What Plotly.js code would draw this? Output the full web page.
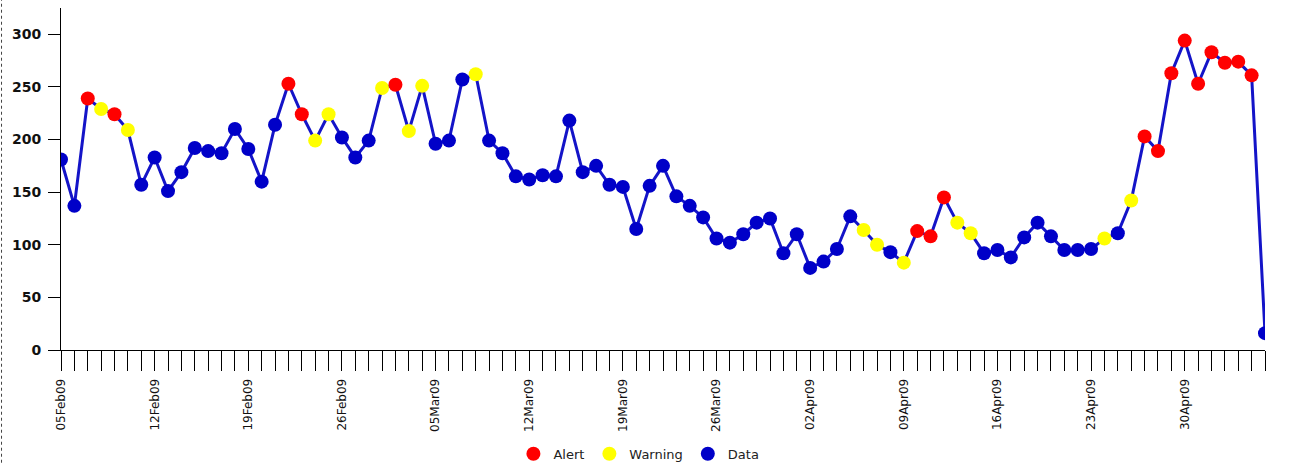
<!DOCTYPE html>
<html>
<head>
<meta charset="utf-8">
<script src="https://cdn.plot.ly/plotly-3.0.1.min.js"></script>
<style>
html,body{margin:0;padding:0;background:#fff;}
#chart{width:1295px;height:463px;}
</style>
</head>
<body>
<div id="chart"></div>
<script>
// First day of the daily series
const startDate = '2009-02-05';

// Daily values (05Feb09 .. 06May09)
const values = [
  181,137,239,229,224,209,157,183,151,169,
  192,189,187,210,191,160,214,253,224,199,
  224,202,183,199,249,252,208,251,196,199,
  257,262,199,187,165,162,166,165,218,169,
  175,157,155,115,156,175,146,137,126,106,
  102,110,121,125,92,110,78,84,96,127,
  114,100,93,83,113,108,145,121,111,92,
  95,88,107,121,108,95,95,96,106,111,
  142,203,189,263,294,253,283,273,274,261,
  16
];

// Status of each day: A = Alert, W = Warning, D = Data
const status = [
  'D','D','A','W','A','W','D','D','D','D',
  'D','D','D','D','D','D','D','A','A','W',
  'W','D','D','D','W','A','W','W','D','D',
  'D','W','D','D','D','D','D','D','D','D',
  'D','D','D','D','D','D','D','D','D','D',
  'D','D','D','D','D','D','D','D','D','D',
  'W','W','D','W','A','A','A','W','W','D',
  'D','D','D','D','D','D','D','D','W','D',
  'W','A','A','A','A','A','A','A','A','A',
  'D'
];

const seriesNames = {A: 'Alert', W: 'Warning', D: 'Data'};
const seriesColors = {A: '#ff0000', W: '#ffff00', D: '#0000c8'};
const legendOrder = ['A', 'W', 'D'];

// Dates for each value
const dates = values.map((v, i) => {
  const d = new Date(startDate + 'T00:00:00Z');
  d.setUTCDate(d.getUTCDate() + i);
  return d.toISOString().slice(0, 10);
});

const traces = [{
  x: dates, y: values, type: 'scatter', mode: 'lines',
  line: {color: '#1414c8', width: 3},
  showlegend: false, hoverinfo: 'skip'
}];

legendOrder.forEach(code => {
  const xs = [], ys = [];
  status.forEach((s, i) => { if (s === code) { xs.push(dates[i]); ys.push(values[i]); } });
  traces.push({
    x: xs, y: ys, type: 'scatter', mode: 'markers', name: seriesNames[code],
    marker: {color: seriesColors[code], size: 14, line: {width: 0}}
  });
});

const layout = {
  width: 1295, height: 463,
  margin: {l: 61, r: 30, t: 8, b: 113, pad: 0},
  paper_bgcolor: '#ffffff', plot_bgcolor: '#ffffff',
  font: {family: 'DejaVu Sans', color: '#111'},
  showlegend: true,
  legend: {
    orientation: 'h', x: 0.48, xanchor: 'center',
    yref: 'container', y: 0.02, yanchor: 'middle',
    font: {family: 'DejaVu Sans', size: 13, color: '#222'},
    itemwidth: 30, traceorder: 'normal'
  },
  xaxis: {
    type: 'date', automargin: false,
    range: [dates[0], dates[dates.length - 1]],
    tick0: startDate, dtick: 7 * 86400000,
    tickformat: '%d%b%y', tickangle: -90,
    ticks: 'outside', ticklen: 20, tickwidth: 1, tickcolor: '#000',
    tickfont: {family: 'DejaVu Sans', size: 12, color: '#111'},
    ticklabelstandoff: 3,
    minor: {dtick: 86400000, ticks: 'outside', ticklen: 20, tickwidth: 1, tickcolor: '#000', showgrid: false},
    showline: true, linecolor: '#000', linewidth: 1,
    showgrid: false, zeroline: false, fixedrange: true
  },
  yaxis: {
    range: [0, 325], automargin: false,
    tickvals: [0, 50, 100, 150, 200, 250, 300],
    ticks: 'outside', ticklen: 12, tickwidth: 1, tickcolor: '#000',
    ticklabelstandoff: 4,
    tickfont: {family: 'DejaVu Sans', size: 14, color: '#111', weight: 'bold'},
    showline: true, linecolor: '#000', linewidth: 1,
    showgrid: false, zeroline: false, fixedrange: true
  },
  shapes: [{
    type: 'line', xref: 'paper', yref: 'paper',
    x0: -0.0494, x1: -0.0494, y0: 1.03, y1: -0.34,
    line: {color: '#444', width: 1, dash: 'dot'}
  }]
};

Plotly.newPlot('chart', traces, layout, {displayModeBar: false, staticPlot: true});
</script>
</body>
</html>
